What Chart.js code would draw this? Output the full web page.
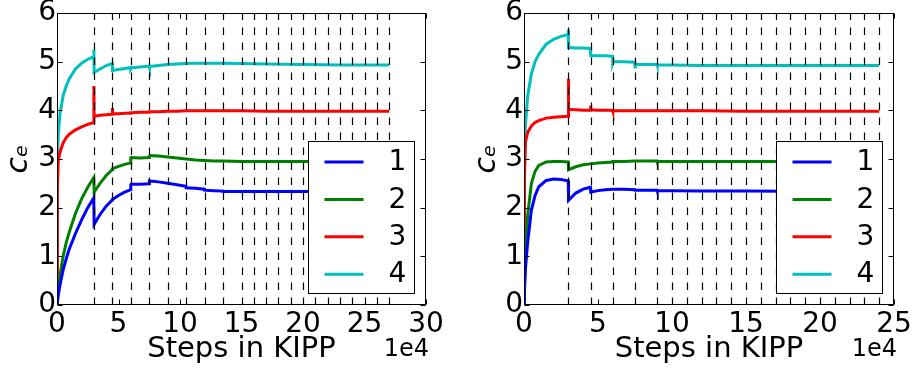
<!DOCTYPE html>
<html>
<head>
<meta charset="utf-8">
<script src="https://cdn.jsdelivr.net/npm/chart.js@4.4.1/dist/chart.umd.min.js"></script>
<style>
  html, body { margin: 0; padding: 0; background: #fff; }
  #wrap { position: relative; width: 918px; height: 375px; }
  canvas { position: absolute; top: 0; }
  #leftChart { left: 0; }
  #rightChart { left: 459px; }
</style>
</head>
<body>
<div id="wrap">
  <canvas id="leftChart" width="459" height="375"></canvas>
  <canvas id="rightChart" width="459" height="375"></canvas>
</div>
<script>
const seriesLabels = ['1', '2', '3', '4'];
const seriesColors = ['#0000ff', '#008000', '#ff0000', '#00bfbf'];
const yTicks = [0, 1, 2, 3, 4, 5, 6];

// left run (steps in units of 1e4)
const leftSteps = [0, 0.03, 0.1, 0.25, 0.5, 0.75, 1, 1.5, 2, 2.5, 2.99, 3, 3.02, 3.5, 4, 4.49, 4.5, 4.52, 5, 5.5, 5.99, 6, 6.02, 6.75, 7.49, 7.5, 7.52, 8.25, 9, 9.75, 10.49, 10.5, 11.25, 11.99, 12, 12.75, 13.49, 13.5, 15, 17, 20, 23, 27];
const leftC1 = [0, 0.06, 0.2, 0.42, 0.72, 0.95, 1.15, 1.47, 1.75, 2.0, 2.2, 2.2, 1.66, 1.86, 2.03, 2.16, 2.16, 2.17, 2.25, 2.32, 2.37, 2.47, 2.48, 2.48, 2.49, 2.55, 2.55, 2.53, 2.5, 2.47, 2.44, 2.41, 2.40, 2.38, 2.36, 2.35, 2.34, 2.33, 2.33, 2.33, 2.33, 2.33, 2.33];
const leftC2 = [0, 0.1, 0.3, 0.62, 1.0, 1.28, 1.5, 1.88, 2.18, 2.42, 2.62, 2.62, 2.32, 2.5, 2.66, 2.78, 2.8, 2.8, 2.85, 2.89, 2.92, 3.02, 3.03, 3.02, 3.03, 3.08, 3.07, 3.06, 3.04, 3.02, 3.0, 3.0, 2.98, 2.97, 2.97, 2.96, 2.96, 2.96, 2.95, 2.95, 2.95, 2.95, 2.95];
const leftC3 = [0, 2.4, 2.95, 3.15, 3.33, 3.44, 3.51, 3.6, 3.66, 3.71, 3.75, 4.5, 3.88, 3.9, 3.91, 3.92, 4.05, 3.93, 3.93, 3.94, 3.94, 3.95, 3.95, 3.96, 3.96, 3.97, 3.97, 3.97, 3.98, 3.98, 3.99, 3.99, 3.99, 3.99, 3.99, 3.99, 3.99, 3.99, 3.99, 3.98, 3.98, 3.98, 3.98];
const leftC4 = [0, 2.8, 3.5, 3.95, 4.3, 4.5, 4.65, 4.85, 4.97, 5.05, 5.1, 5.25, 4.78, 4.85, 4.92, 4.96, 4.82, 4.82, 4.84, 4.86, 4.88, 4.86, 4.87, 4.89, 4.91, 4.89, 4.9, 4.92, 4.94, 4.95, 4.96, 4.96, 4.97, 4.97, 4.97, 4.97, 4.97, 4.97, 4.96, 4.95, 4.94, 4.93, 4.93];
const leftRestarts = [3, 4.5, 6, 7.5, 9, 10.5, 12, 13.5, 15, 16, 17, 18, 19, 20, 21, 22, 23, 24, 25, 26, 27];
const leftXTicks = [0, 5, 10, 15, 20, 25, 30];

// right run
const rightSteps = [0, 0.03, 0.1, 0.25, 0.5, 0.75, 1, 1.5, 2, 2.5, 2.99, 3, 3.02, 3.5, 4, 4.49, 4.5, 4.52, 5, 5.5, 5.99, 6, 6.02, 6.75, 7.49, 7.5, 7.52, 8.25, 8.99, 9, 10, 12, 15, 20, 24];
const rightC1 = [0, 0.3, 0.75, 1.3, 1.95, 2.25, 2.43, 2.56, 2.59, 2.58, 2.55, 2.5, 2.15, 2.3, 2.38, 2.42, 2.32, 2.32, 2.35, 2.37, 2.38, 2.38, 2.38, 2.38, 2.37, 2.36, 2.36, 2.36, 2.36, 2.35, 2.35, 2.34, 2.34, 2.33, 2.33];
const rightC2 = [0, 0.4, 1.0, 1.85, 2.5, 2.75, 2.87, 2.94, 2.95, 2.95, 2.94, 2.9, 2.78, 2.84, 2.88, 2.9, 2.9, 2.9, 2.92, 2.93, 2.94, 2.95, 2.95, 2.95, 2.96, 2.96, 2.96, 2.96, 2.96, 2.95, 2.95, 2.95, 2.95, 2.95, 2.95];
const rightC3 = [0, 2.6, 3.35, 3.55, 3.68, 3.75, 3.79, 3.84, 3.86, 3.87, 3.88, 4.65, 4.02, 4.01, 4.0, 4.0, 4.1, 4.01, 4.0, 4.0, 4.0, 3.99, 3.99, 3.99, 3.99, 3.99, 3.99, 3.99, 3.99, 3.99, 3.99, 3.99, 3.98, 3.98, 3.98];
const rightC4 = [0, 3.0, 3.7, 4.3, 4.75, 5.0, 5.15, 5.36, 5.46, 5.52, 5.56, 5.66, 5.29, 5.28, 5.28, 5.27, 5.14, 5.12, 5.12, 5.12, 5.11, 4.98, 5.0, 5.0, 4.99, 4.89, 4.94, 4.94, 4.94, 4.93, 4.93, 4.92, 4.92, 4.92, 4.92];
const rightRestarts = [3, 4.5, 6, 7.5, 9, 10, 11, 12, 13, 14, 15, 16, 17, 18, 19, 20, 21, 22, 23, 24];
const rightXTicks = [0, 5, 10, 15, 20, 25];

const FAMILY = "'DejaVu Sans', sans-serif";

// dashed restarts, frame, inward ticks, boxed legend, offset text
function decorPlugin(restarts) {
  return {
    id: 'decor',
    afterDraw(chart) {
      const ctx = chart.ctx;
      const a = chart.chartArea;
      const xs = chart.scales.x, ys = chart.scales.y;
      ctx.save();

      ctx.strokeStyle = '#000';
      ctx.lineWidth = 1.2;
      ctx.setLineDash([7.5, 7.5]);
      restarts.forEach(v => {
        const px = Math.round(xs.getPixelForValue(v)) + 0.5;
        ctx.beginPath();
        ctx.moveTo(px, a.bottom);
        ctx.lineTo(px, a.top);
        ctx.stroke();
      });
      ctx.setLineDash([]);

      ctx.lineWidth = 1;
      const l = Math.round(a.left) + 0.5, r = Math.round(a.right) - 0.5;
      const t = Math.round(a.top) + 0.5, b = Math.round(a.bottom) - 0.5;
      ctx.strokeRect(l, t, r - l, b - t);
      ctx.beginPath();
      xs.ticks.forEach(tk => {
        const px = Math.round(xs.getPixelForValue(tk.value)) + 0.5;
        ctx.moveTo(px, b); ctx.lineTo(px, b - 5);
        ctx.moveTo(px, t); ctx.lineTo(px, t + 5);
      });
      ys.ticks.forEach(tk => {
        const py = Math.round(ys.getPixelForValue(tk.value)) + 0.5;
        ctx.moveTo(l, py); ctx.lineTo(l + 5, py);
        ctx.moveTo(r, py); ctx.lineTo(r - 5, py);
      });
      ctx.stroke();

      // legend box
      const bw = 106, bh = 152;
      const bx = Math.round(a.right) - 12 - bw + 0.5;
      const by = Math.round(a.bottom) - 12 - bh + 0.5;
      ctx.fillStyle = '#fff';
      ctx.fillRect(bx, by, bw, bh);
      ctx.strokeStyle = '#000';
      ctx.lineWidth = 1;
      ctx.strokeRect(bx, by, bw, bh);
      ctx.font = '28px ' + FAMILY;
      ctx.textBaseline = 'middle';
      ctx.textAlign = 'left';
      chart.data.datasets.forEach((ds, i) => {
        const ly = by + 20.5 + i * 37.4;
        ctx.strokeStyle = ds.borderColor;
        ctx.lineWidth = 3;
        ctx.beginPath();
        ctx.moveTo(bx + 16, ly);
        ctx.lineTo(bx + 55, ly);
        ctx.stroke();
        ctx.fillStyle = '#000';
        ctx.fillText(ds.label, bx + 80, ly + 1);
      });

      // offset text
      ctx.font = '24px ' + FAMILY;
      ctx.textAlign = 'right';
      ctx.textBaseline = 'alphabetic';
      ctx.fillText('1e4', a.right + 3, 356);
      ctx.restore();
    }
  };
}

function makeDatasets(steps, cols) {
  return cols.map((vals, i) => ({
    label: seriesLabels[i],
    data: steps.map((x, j) => ({ x: x, y: vals[j] })),
    borderColor: seriesColors[i],
    backgroundColor: seriesColors[i],
    borderWidth: 3,
    pointRadius: 0,
    tension: 0,
    fill: false
  }));
}

function makeOptions(xMax, xTicks, padLeft, yWidth, padRight) {
  return {
    responsive: false,
    animation: false,
    layout: { padding: { left: padLeft, right: padRight, top: 13, bottom: 0 } },
    plugins: { legend: { display: false }, tooltip: { enabled: false } },
    scales: {
      x: {
        type: 'linear',
        min: 0,
        max: xMax,
        afterBuildTicks: s => { s.ticks = xTicks.map(v => ({ value: v })); },
        afterFit: s => { s.height = 70; s.paddingLeft = 0; s.paddingRight = 0; },
        grid: { display: false, drawTicks: false },
        border: { display: false },
        ticks: { color: '#000', font: { family: FAMILY, size: 28 }, padding: 3, maxRotation: 0, autoSkip: false },
        title: { display: true, text: 'Steps in KIPP', color: '#000', font: { family: FAMILY, size: 29 }, padding: { top: 0, bottom: 8 } }
      },
      y: {
        type: 'linear',
        min: 0,
        max: 6,
        afterBuildTicks: s => { s.ticks = yTicks.map(v => ({ value: v })); },
        afterFit: s => { s.width = yWidth; s.paddingTop = 0; s.paddingBottom = 0; },
        grid: { display: false, drawTicks: false },
        border: { display: false },
        ticks: { color: '#000', font: { family: FAMILY, size: 28 }, padding: 1, autoSkip: false },
        title: { display: true, text: 'c\u2091', color: '#000', font: { family: FAMILY, size: 30, style: 'italic' }, padding: { top: 0, bottom: 0 } }
      }
    }
  };
}

function renderLeft() {
  new Chart(document.getElementById('leftChart').getContext('2d'), {
    type: 'line',
    data: { datasets: makeDatasets(leftSteps, [leftC1, leftC2, leftC3, leftC4]) },
    options: makeOptions(30, leftXTicks, 1, 56, 33),
    plugins: [decorPlugin(leftRestarts)]
  });
}

function renderRight() {
  new Chart(document.getElementById('rightChart').getContext('2d'), {
    type: 'line',
    data: { datasets: makeDatasets(rightSteps, [rightC1, rightC2, rightC3, rightC4]) },
    options: makeOptions(25, rightXTicks, 10, 55, 24),
    plugins: [decorPlugin(rightRestarts)]
  });
}

renderLeft();
renderRight();
</script>
</body>
</html>
